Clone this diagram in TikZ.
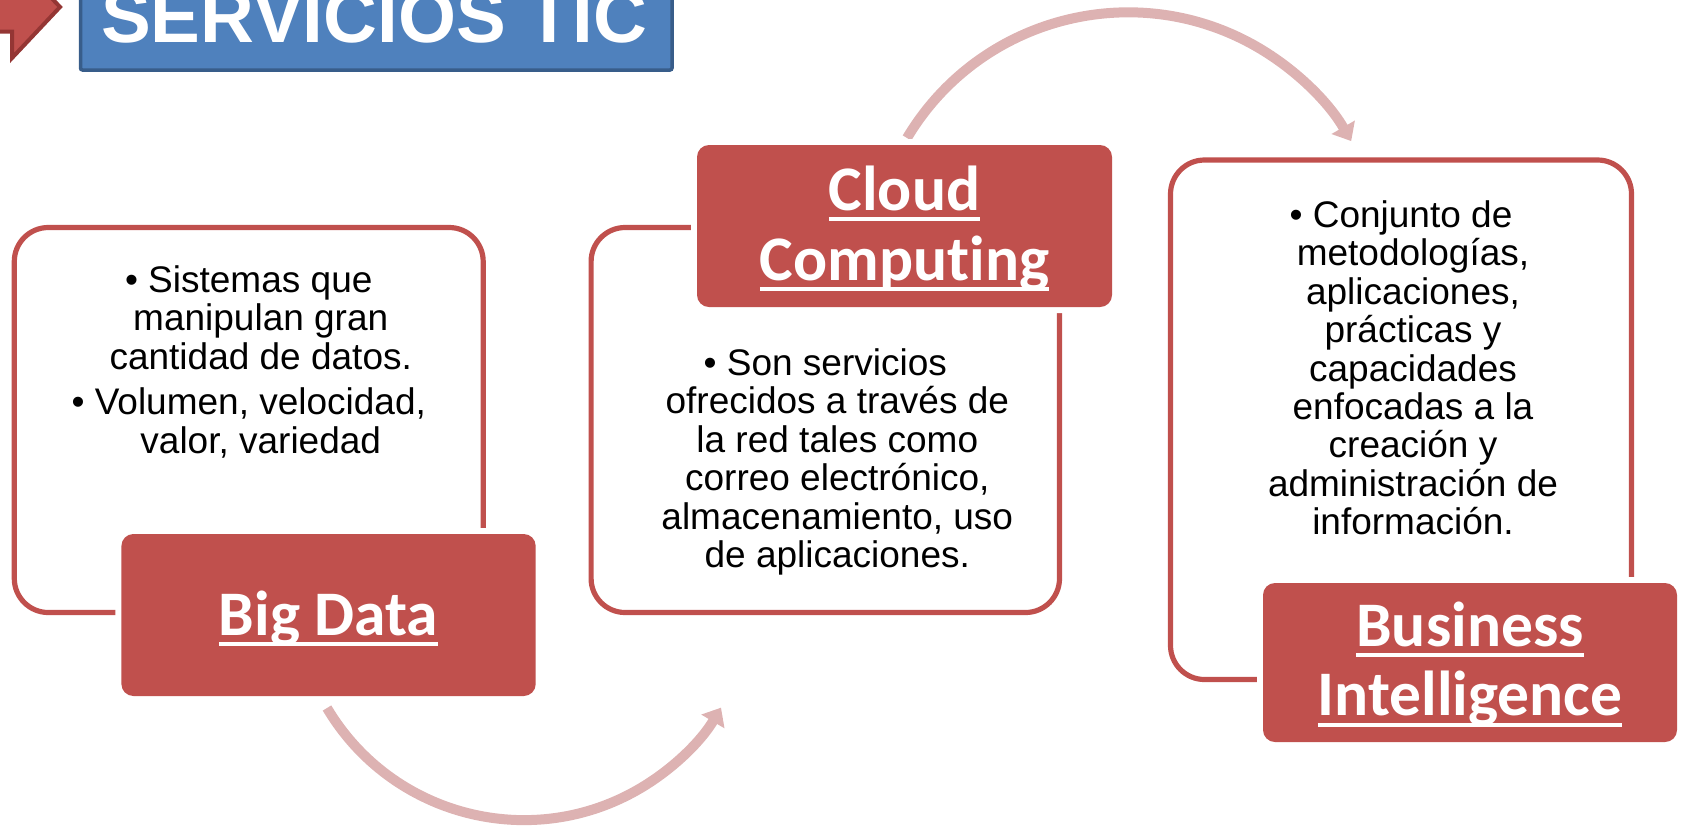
\documentclass[tikz,border=0pt]{standalone}
\usepackage{fontspec}
\setmainfont{Liberation Sans}
\newfontfamily\calib[Ligatures={NoCommon,NoContextual}]{Carlito}
\usetikzlibrary{arrows.meta}
\definecolor{accred}{HTML}{C0504D}
\definecolor{darkred}{HTML}{943634}
\definecolor{titleblue}{HTML}{4F81BD}
\definecolor{titleborder}{HTML}{385D8A}
\definecolor{arrowpink}{RGB}{221,178,178}
\newcommand\ulbox[1]{\setbox0\hbox{#1}\rlap{\rule[-0.17em]{\wd0}{0.065em}}\box0}
\newcommand\contline{\hspace*{12pt}}
\newcommand\topstrut{\rule{0pt}{1em}}
\begin{document}
\lineskiplimit=-100pt\relax
\begin{tikzpicture}[x=0.5pt,y=-0.5pt,
  outlinebox/.style={draw=accred, line width=2.6pt, rounded corners=17pt, inner sep=0pt},
  labelbox/.style={fill=accred, rounded corners=6pt, inner sep=0pt},
  gapbox/.style={fill=white, rounded corners=9pt, inner sep=0pt},
  bodytext/.style={align=center, inner sep=0pt, anchor=north, text=black,
    font=\fontsize{18.5pt}{19.2pt}\selectfont},
  labeltext/.style={align=center, inner sep=0pt, anchor=north, text=white,
    font=\calib\bfseries\fontsize{31.75pt}{34.75pt}\selectfont},
  cyclearrow/.style={draw=arrowpink, line width=5pt, -{Triangle[length=8pt,width=13pt]}}
]
\useasboundingbox (0,0) rectangle (1681,826);

% top-left block arrow and title
\draw[fill=accred, draw=darkred, line width=2pt, line join=miter]
  (-10,31.5) -- (12,31.5) -- (12,58) -- (60,7) -- (12,-44) -- (12,-17.5) -- (-10,-17.5) -- cycle;
\node[fill=titleblue, draw=titleborder, line width=1.75pt, rounded corners=1pt,
  minimum width=295.75pt, minimum height=50pt, inner sep=0pt] (titlebox) at (376.25,20) {};
\node[anchor=base, inner sep=0pt, text=white, font=\fontsize{37.3pt}{40pt}\selectfont\bfseries]
  (titletext) at (374,42) {SERVICIOS TIC};

% outline boxes
\node[outlinebox, minimum width=234.45pt, minimum height=192.5pt] (bdout) at (248.75,420) {};
\node[outlinebox, minimum width=234.2pt, minimum height=192.5pt] (ccout) at (825.3,420) {};
\node[outlinebox, minimum width=230.5pt, minimum height=259.75pt] (biout) at (1401,419.75) {};

% cycle arrows
\coordinate (arrAs) at (327,708);
\draw[cyclearrow] (arrAs) arc[start angle=149.3, end angle=30.6, radius=229];
\coordinate (arrBs) at (907,138);
\draw[cyclearrow] (arrBs) arc[start angle=-149.2, end angle=-30, radius=257.5];

% label boxes with white gaps
\node[gapbox, minimum width=213.15pt, minimum height=87pt] (bdgap) at (328.55,615) {};
\node[labelbox, minimum width=207.15pt, minimum height=81pt] (bdlab) at (328.55,615) {};
\node[gapbox, minimum width=213.5pt, minimum height=87pt] (ccgap) at (904.5,226) {};
\node[labelbox, minimum width=207.5pt, minimum height=81pt] (cclab) at (904.5,226) {};
\node[gapbox, minimum width=213pt, minimum height=85.5pt] (bigap) at (1470,662.5) {};
\node[labelbox, minimum width=207pt, minimum height=79.5pt] (bilab) at (1470,662.5) {};

% label texts
\node[labeltext] (bdtitle) at (328.55,571.5) {\topstrut\ulbox{Big Data}};
\node[labeltext, font=\calib\bfseries\fontsize{31.75pt}{35pt}\selectfont]
  (cctitle) at (904.5,146.5) {\topstrut\ulbox{Cloud}\\\ulbox{Computing}};
\node[labeltext] (bititle) at (1470,582.5) {\topstrut\ulbox{Business}\\\ulbox{Intelligence}};

% body texts
\node[bodytext] (bdbody) at (248.75,255)
  {\topstrut• Sistemas que\\\contline manipulan gran\\\contline cantidad de datos.\\[3.5pt]• Volumen, velocidad,\\\contline valor, variedad};
\node[bodytext] (ccbody) at (825.3,338)
  {\topstrut• Son servicios\\\contline ofrecidos a través de\\\contline la red tales como\\\contline correo electrónico,\\\contline almacenamiento, uso\\\contline de aplicaciones.};
\node[bodytext] (bibody) at (1401,190)
  {\topstrut• Conjunto de\\\contline metodologías,\\\contline aplicaciones,\\\contline prácticas y\\\contline capacidades\\\contline enfocadas a la\\\contline creación y\\\contline administración de\\\contline información.};
\end{tikzpicture}
\end{document}
